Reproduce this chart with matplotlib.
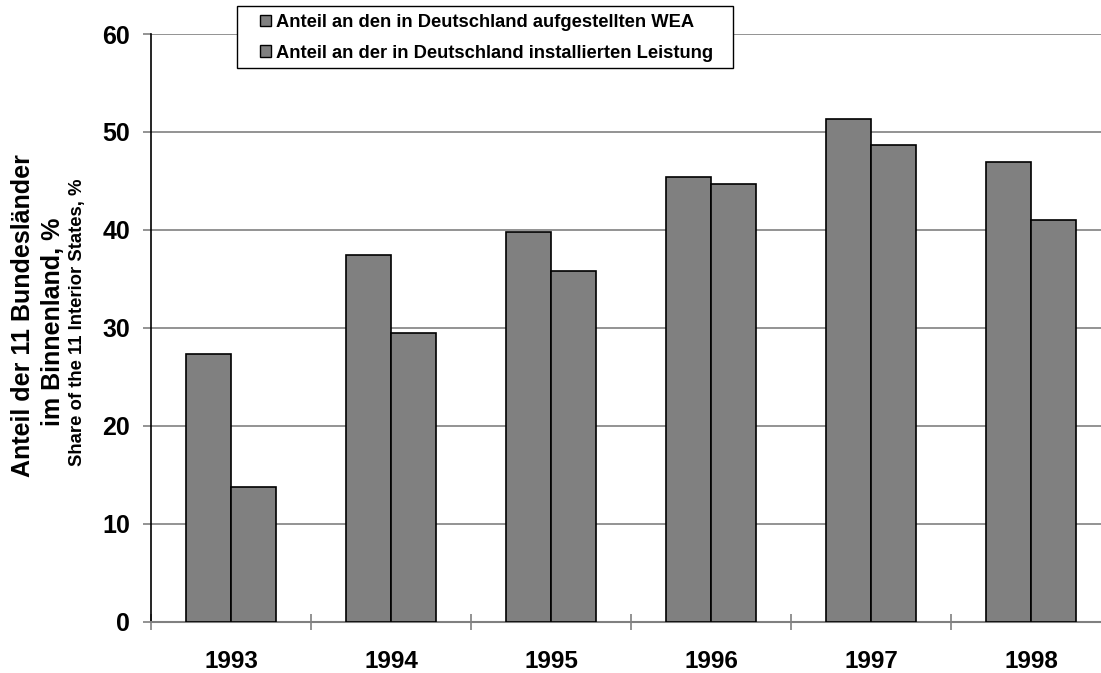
import matplotlib
matplotlib.use("Agg")
from matplotlib import pyplot as plt
from matplotlib.patches import Patch, Rectangle
import numpy as np

plt.rcParams['font.family'] = ['Liberation Sans', 'DejaVu Sans']
plt.rcParams['font.weight'] = 'bold'

years = ['1993', '1994', '1995', '1996', '1997', '1998']
# share of turbines (WEA) and of installed capacity, in %
wea_share = [27.3, 37.4, 39.8, 45.4, 51.3, 46.9]
power_share = [13.7, 29.5, 35.8, 44.7, 48.7, 41.0]
legend_labels = ['Anteil an den in Deutschland aufgestellten WEA',
                 'Anteil an der in Deutschland installierten Leistung']
yticks = [0, 10, 20, 30, 40, 50, 60]

W, H = 1101, 673
fig = plt.figure(figsize=(W / 100, H / 100), dpi=100)
# plot area runs past the right border of the picture, like the original
ax = fig.add_axes([151 / W, (H - 621.5) / H, 960 / W, (621.5 - 34) / H])

x = np.arange(len(years)) + 0.5
bw = 0.284
ax.bar(x - bw / 2, wea_share, width=bw, color='#808080', edgecolor='black', linewidth=1.2, zorder=3)
ax.bar(x + bw / 2, power_share, width=bw, color='#808080', edgecolor='black', linewidth=1.2, zorder=3)

ax.set_xlim(0, len(years))
ax.set_ylim(0, 60)
ax.set_yticks(yticks)
ax.set_yticklabels([str(t) for t in yticks], fontsize=18, fontweight='bold')
ax.set_xticks(x)
ax.set_xticklabels(years, fontsize=17.5, fontweight='bold')
ax.set_xticks(np.arange(len(years) + 1), minor=True)
ax.tick_params(axis='x', which='major', length=0, pad=20.5)
ax.tick_params(axis='x', which='minor', length=12, direction='inout', color='#808080', width=1.2)
ax.tick_params(axis='y', length=6, direction='out', color='#808080', width=1.2, pad=9)

ax.yaxis.grid(True, color='#808080', linewidth=1.2, zorder=0)
ax.set_axisbelow(True)
for s in ['top', 'right']:
    ax.spines[s].set_visible(False)
ax.spines['left'].set_color('black')
ax.spines['left'].set_linewidth(1.2)
ax.spines['bottom'].set_color('#808080')
ax.spines['bottom'].set_linewidth(1.5)

# legend box is wider than its text (as in the original), so draw the frame separately
fig.patches.append(Rectangle((237 / W, 1 - 68 / H), (733 - 237) / W, 62 / H, transform=fig.transFigure,
                             facecolor='white', edgecolor='black', linewidth=1.0, zorder=5))
handles = [Patch(facecolor='#808080', edgecolor='black', linewidth=1) for _ in legend_labels]
leg = fig.legend(handles, legend_labels, loc='upper left', bbox_to_anchor=(260 / W, 1 - 14 / H),
                 bbox_transform=fig.transFigure, prop={'size': 13.2, 'weight': 'bold'},
                 handlelength=0.6, handleheight=0.6, handletextpad=0.3, labelspacing=0.75,
                 frameon=False, borderpad=0, borderaxespad=0)
leg.set_zorder(6)

fig.text(23 / W, 1 - 316 / H, 'Anteil der 11 Bundesländer', rotation=90, ha='center', va='center',
         fontsize=18, fontweight='bold')
fig.text(53 / W, 1 - 322 / H, 'im Binnenland, %', rotation=90, ha='center', va='center',
         fontsize=18, fontweight='bold')
fig.text(78 / W, 1 - 322 / H, 'Share of the 11 Interior States, %', rotation=90, ha='center', va='center',
         fontsize=13.3)

plt.savefig('out.png', dpi=100)
